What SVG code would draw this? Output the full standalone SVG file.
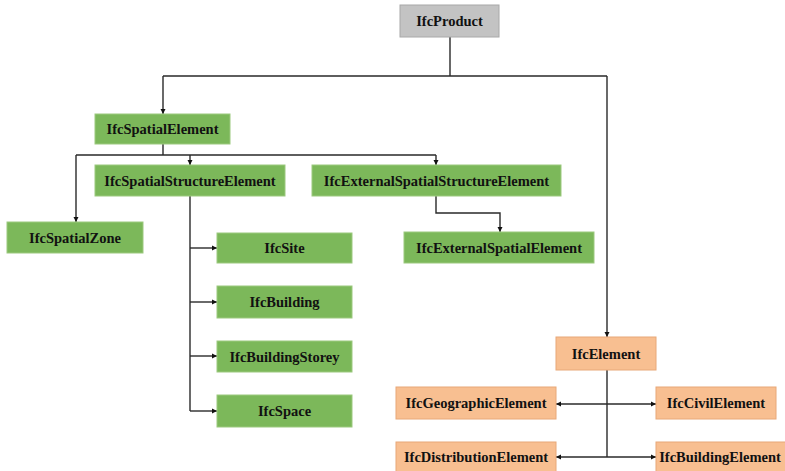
<svg xmlns="http://www.w3.org/2000/svg" width="785" height="471" viewBox="0 0 785 471">
<style>
.g rect{fill:#7cb85a;stroke:#9cc97f;stroke-width:1}
.o rect{fill:#f8bf91;stroke:#e8a878;stroke-width:1}
.p rect{fill:#c3c3c3;stroke:#a8a8a8;stroke-width:1}
text{font-family:"Liberation Serif","Times New Roman",serif;font-weight:bold;font-size:14.5px;fill:#111;text-anchor:middle;dominant-baseline:central}
.c path{fill:none;stroke:#2a2a2a;stroke-width:1.4}
</style>
<defs>
<marker id="a" markerUnits="userSpaceOnUse" markerWidth="6" markerHeight="6" refX="5" refY="3" orient="auto">
<path d="M0,0.5 L5,3 L0,5.5 Z" fill="#111"/>
</marker>
</defs>
<rect width="785" height="471" fill="#fff"/>
<g class="c" id="connectors">
<path d="M450,37 V76 M163,76 H607"/>
<path d="M163,76 V114" marker-end="url(#a)"/>
<path d="M607,76 V337" marker-end="url(#a)"/>
<path d="M163,144 V155 M76,155 H436"/>
<path d="M190,155 V165" marker-end="url(#a)"/>
<path d="M436,155 V165" marker-end="url(#a)"/>
<path d="M76,155 V222" marker-end="url(#a)"/>
<path d="M436,196 V213 H500 V232" marker-end="url(#a)"/>
<path d="M190,196 V411"/>
<path d="M190,248 H217" marker-end="url(#a)"/>
<path d="M190,302 H217" marker-end="url(#a)"/>
<path d="M190,356 H217" marker-end="url(#a)"/>
<path d="M190,411 H217" marker-end="url(#a)"/>
<path d="M607,370 V457"/>
<path d="M607,404 H556" marker-end="url(#a)"/>
<path d="M607,404 H656" marker-end="url(#a)"/>
<path d="M607,457 H556" marker-end="url(#a)"/>
<path d="M607,457 H656" marker-end="url(#a)"/>
</g>
<g id="IfcProduct" class="p"><rect x="400" y="5" width="99" height="32"/><text x="449.5" y="21">IfcProduct</text></g>
<g id="IfcSpatialElement" class="g"><rect x="95" y="114" width="135" height="30"/><text x="162.5" y="129">IfcSpatialElement</text></g>
<g id="IfcSpatialStructureElement" class="g"><rect x="95" y="165" width="190" height="31"/><text x="190" y="180.5">IfcSpatialStructureElement</text></g>
<g id="IfcExternalSpatialStructureElement" class="g"><rect x="312" y="165" width="249" height="31"/><text x="436.5" y="180.5">IfcExternalSpatialStructureElement</text></g>
<g id="IfcSpatialZone" class="g"><rect x="7" y="222" width="136" height="31"/><text x="75" y="237.5">IfcSpatialZone</text></g>
<g id="IfcExternalSpatialElement" class="g"><rect x="404" y="232" width="190" height="31"/><text x="499" y="247.5">IfcExternalSpatialElement</text></g>
<g id="IfcSite" class="g"><rect x="217" y="233" width="135" height="30"/><text x="284.5" y="248">IfcSite</text></g>
<g id="IfcBuilding" class="g"><rect x="217" y="286" width="135" height="32"/><text x="284.5" y="302">IfcBuilding</text></g>
<g id="IfcBuildingStorey" class="g"><rect x="217" y="341" width="135" height="31"/><text x="284.5" y="356.5">IfcBuildingStorey</text></g>
<g id="IfcSpace" class="g"><rect x="217" y="395" width="135" height="32"/><text x="284.5" y="411">IfcSpace</text></g>
<g id="IfcElement" class="o"><rect x="556" y="337" width="100" height="33"/><text x="606" y="353.5">IfcElement</text></g>
<g id="IfcGeographicElement" class="o"><rect x="396" y="387" width="160" height="32"/><text x="476" y="403">IfcGeographicElement</text></g>
<g id="IfcCivilElement" class="o"><rect x="656" y="387" width="120" height="32"/><text x="716" y="403">IfcCivilElement</text></g>
<g id="IfcDistributionElement" class="o"><rect x="396" y="442" width="160" height="32"/><text x="476" y="457">IfcDistributionElement</text></g>
<g id="IfcBuildingElement" class="o"><rect x="656" y="442" width="132" height="32"/><text x="720" y="457">IfcBuildingElement</text></g>
</svg>
